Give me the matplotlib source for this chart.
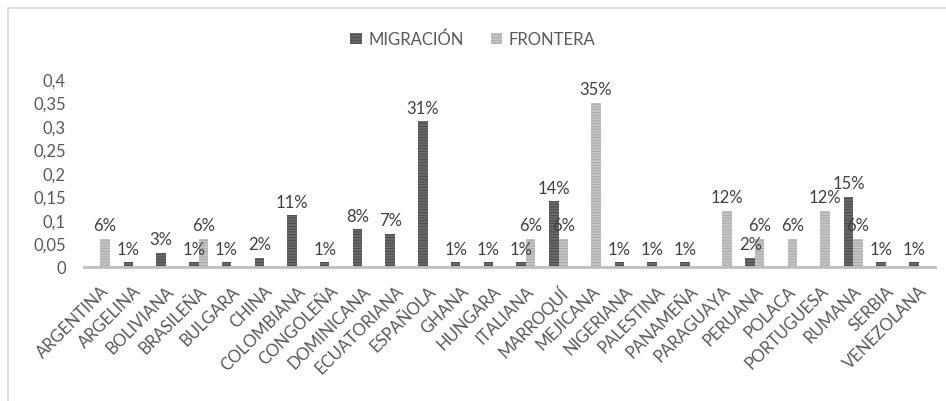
import numpy as np
import matplotlib.pyplot as plt
from matplotlib.patches import Rectangle

plt.rcParams['font.family'] = ['Lato', 'DejaVu Sans']
plt.rcParams['hatch.linewidth'] = 0.6

categories = ['ARGENTINA', 'ARGELINA', 'BOLIVIANA', 'BRASILEÑA', 'BULGARA', 'CHINA',
              'COLOMBIANA', 'CONGOLEÑA', 'DOMINICANA', 'ECUATORIANA', 'ESPAÑOLA', 'GHANA',
              'HUNGARA', 'ITALIANA', 'MARROQUÍ', 'MEJICANA', 'NIGERIANA', 'PALESTINA',
              'PANAMEÑA', 'PARAGUAYA', 'PERUANA', 'POLACA', 'PORTUGUESA', 'RUMANA',
              'SERBIA', 'VENEZOLANA']
migracion = [0, 0.01, 0.03, 0.01, 0.01, 0.02, 0.11, 0.01, 0.08, 0.07, 0.31, 0.01, 0.01,
             0.01, 0.14, 0, 0.01, 0.01, 0.01, 0, 0.02, 0, 0, 0.15, 0.01, 0.01]
frontera = [0.06, 0, 0, 0.06, 0, 0, 0, 0, 0, 0, 0, 0, 0, 0.06, 0.06, 0.35, 0, 0, 0,
            0.12, 0.06, 0.06, 0.12, 0.06, 0, 0]
yticks = [0, 0.05, 0.1, 0.15, 0.2, 0.25, 0.3, 0.35, 0.4]

fig = plt.figure(figsize=(9.46, 4.02), dpi=100)
ax = fig.add_axes([84 / 946, 1 - 268 / 402, (935 - 84) / 946, (268 - 80) / 402])

x = np.arange(len(categories))
w = 0.29
b1 = ax.bar(x - w / 2, migracion, w, color='#6a6a6a', edgecolor='#474747',
            hatch='------', linewidth=0, label='MIGRACIÓN')
b2 = ax.bar(x + w / 2, frontera, w, color='#c4c4c4', edgecolor='#a8a8a8',
            hatch='------', linewidth=0, label='FRONTERA')

for bars, vals in ((b1, migracion), (b2, frontera)):
    for r, v in zip(bars, vals):
        if v > 0:
            ax.text(r.get_x() + r.get_width() / 2, v + 0.012, f'{round(v * 100)}%',
                    ha='center', va='bottom', fontsize=12, color='#404040')

ax.set_xlim(-0.5, len(categories) - 0.5)
ax.set_ylim(0, 0.4)
ax.set_yticks(yticks)
ax.set_yticklabels([('%g' % t).replace('.', ',') for t in yticks])
ax.set_xticks(x)
ax.set_xticklabels(categories, rotation=45, ha='right', rotation_mode='anchor')
ax.tick_params(length=0, labelsize=12, colors='#595959')
ax.tick_params(axis='y', pad=13)
ax.tick_params(axis='x', pad=11)
for s in ('top', 'right', 'left'):
    ax.spines[s].set_visible(False)
ax.spines['bottom'].set_color('#bfbfbf')
ax.spines['bottom'].set_linewidth(2)

fig.legend(handles=[b1, b2], loc='center', bbox_to_anchor=(0.5, 1 - 40 / 402), ncol=2,
           frameon=False, fontsize=12, handlelength=0.7, handleheight=0.7,
           handletextpad=0.4, columnspacing=1.6, labelcolor='#595959')

# chart area border (cropped on the right and bottom in the original)
fig.patches.append(Rectangle((8 / 946, -0.1), 1.2, 1.1 - 9 / 402,
                             transform=fig.transFigure, fill=False,
                             edgecolor='#d9d9d9', linewidth=1.2))

fig.savefig('out.png', dpi=100)
